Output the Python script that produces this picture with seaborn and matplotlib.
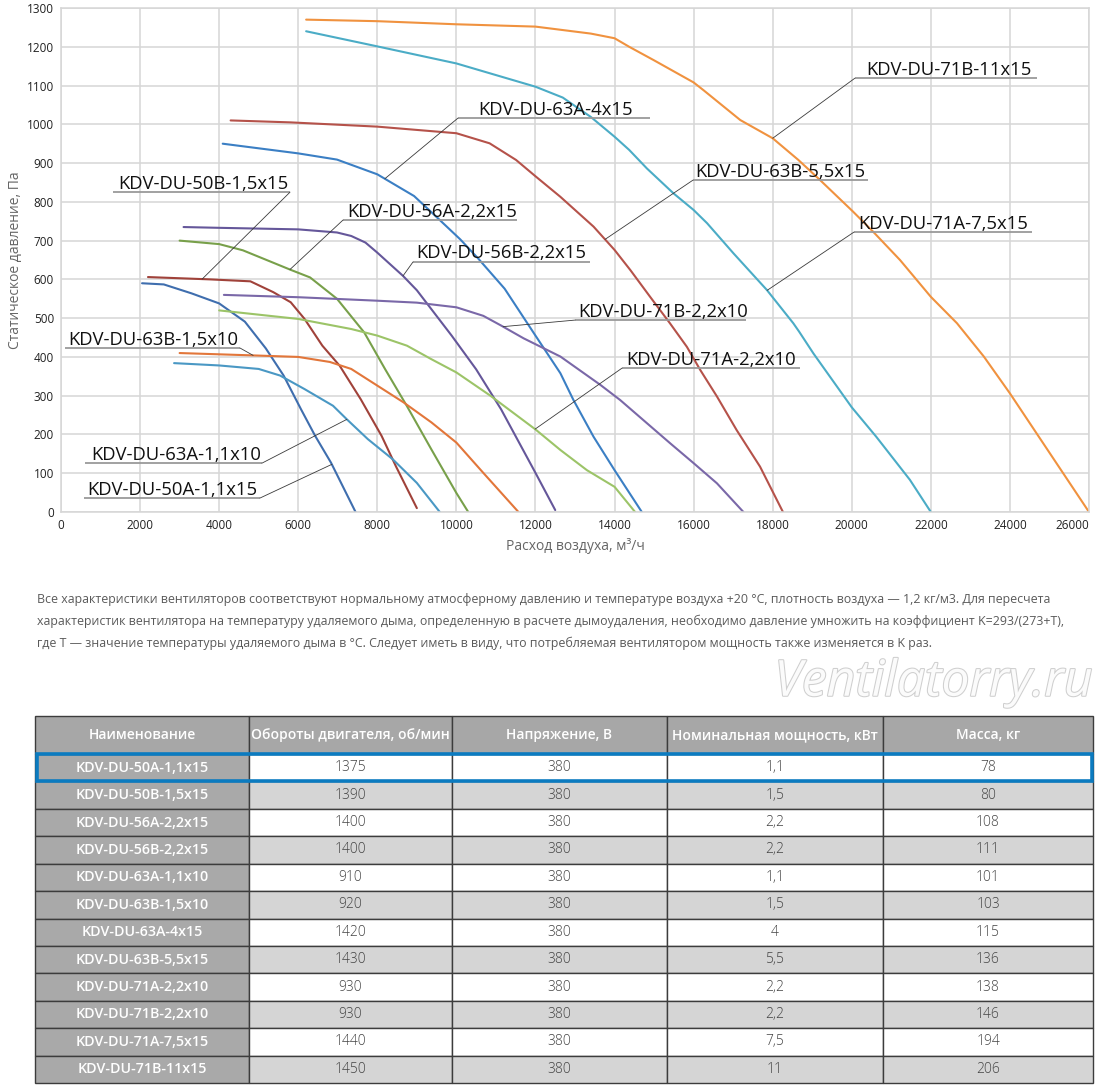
import numpy as np
import pandas as pd
import matplotlib
matplotlib.use("Agg")
import matplotlib.pyplot as plt
import seaborn as sns
from matplotlib import font_manager as fm
from matplotlib.patches import Rectangle
import matplotlib.patheffects as pe

# ---------------- data: fan curves (flow m3/h, static pressure Pa) ----------------
q_50A_11x15 = [2050, 2600, 3300, 4000, 4650, 5180, 5630, 6070, 6430, 6830, 7450]
p_50A_11x15 = [590, 587, 564, 538, 491, 422, 352, 265, 196, 127, 0]

q_50B_15x15 = [2200, 3770, 4790, 5370, 5810, 6160, 6610, 7050, 7580, 8110, 8470, 9000]
p_50B_15x15 = [606, 600, 595, 567, 541, 498, 429, 377, 291, 196, 118, 10]

q_56A_22x15 = [3000, 4000, 4600, 5200, 5800, 6300, 6980, 7670, 8200, 8750, 9370, 10000, 10300]
p_56A_22x15 = [700, 691, 675, 650, 625, 605, 550, 463, 368, 273, 161, 49, 0]

q_56B_22x15 = [3100, 4000, 5000, 6000, 6980, 7340, 7700, 8000, 8650, 9000, 9880, 10500, 11130, 12000, 12500]
p_56B_22x15 = [735, 733, 731, 729, 721, 712, 695, 669, 609, 572, 455, 368, 265, 101, 5]

q_63A_11x10 = [2860, 4000, 5000, 5540, 6160, 6880, 7230, 7760, 8390, 9000, 9580]
p_63A_11x10 = [384, 378, 369, 352, 317, 274, 239, 188, 136, 75, 0]

q_63B_15x10 = [3000, 4830, 6000, 6800, 7340, 8000, 8660, 9370, 10000, 10680, 11570]
p_63B_15x10 = [410, 404, 400, 387, 369, 326, 283, 231, 179, 101, 0]

q_63A_4x15 = [4090, 6000, 6980, 8000, 8930, 9560, 10100, 10550, 11220, 12000, 12630, 12960, 13470, 14000, 14690]
p_63A_4x15 = [950, 925, 909, 871, 815, 755, 703, 654, 576, 455, 358, 289, 194, 108, 0]

q_63B_55x15 = [4290, 5800, 8000, 10000, 10840, 11510, 12000, 12630, 13470, 14000, 14400, 14900,
               15400, 15830, 16170, 16590, 17090, 17680, 18260]
p_63B_55x15 = [1010, 1005, 994, 977, 951, 908, 866, 813, 736, 676, 624, 555,
               487, 426, 366, 298, 211, 117, 0]

q_71A_22x10 = [4000, 6000, 7340, 8000, 8750, 9370, 10000, 10860, 12000, 12630, 13300, 14000, 14520]
p_71A_22x10 = [520, 498, 472, 455, 429, 394, 360, 300, 213, 160, 108, 65, 0]

q_71B_22x10 = [4120, 6000, 8000, 9000, 10000, 10680, 11130, 11700, 12630, 13640, 14140, 14820, 15410,
               16000, 16590, 17260]
p_71B_22x10 = [560, 554, 545, 540, 528, 506, 481, 448, 401, 328, 289, 229, 177,
               126, 74, 0]

q_71A_75x15 = [6200, 8000, 10000, 11000, 12000, 12690, 13400, 14000, 14370, 14820, 15490, 16000, 16340,
               17010, 17850, 18520, 18670, 19030, 20000, 20620, 21470, 22000]
p_71A_75x15 = [1240, 1201, 1157, 1127, 1097, 1069, 1019, 968, 934, 886, 822, 779, 745,
               667, 573, 487, 465, 409, 270, 194, 83, 0]

q_71B_11x15 = [6200, 8000, 10000, 12000, 13400, 14000, 14370, 15000, 16000, 16250, 17180, 18000, 18650,
               19180, 20030, 20540, 21220, 22000, 22660, 23340, 24000, 25000, 26000]
p_71B_11x15 = [1270, 1266, 1258, 1252, 1234, 1222, 1200, 1165, 1108, 1088, 1011, 964, 908,
               858, 775, 723, 650, 555, 487, 401, 306, 153, 0]

# ---------------- data: table ----------------
names = ["KDV-DU-50A-1,1x15", "KDV-DU-50B-1,5x15", "KDV-DU-56A-2,2x15", "KDV-DU-56B-2,2x15",
         "KDV-DU-63A-1,1x10", "KDV-DU-63B-1,5x10", "KDV-DU-63A-4x15", "KDV-DU-63B-5,5x15",
         "KDV-DU-71A-2,2x10", "KDV-DU-71B-2,2x10", "KDV-DU-71A-7,5x15", "KDV-DU-71B-11x15"]
rpm = [1375, 1390, 1400, 1400, 910, 920, 1420, 1430, 930, 930, 1440, 1450]
voltage = [380, 380, 380, 380, 380, 380, 380, 380, 380, 380, 380, 380]
power = [1.1, 1.5, 2.2, 2.2, 1.1, 1.5, 4, 5.5, 2.2, 2.2, 7.5, 11]
mass = [78, 80, 108, 111, 101, 103, 115, 136, 138, 146, 194, 206]
headers = ["Наименование", "Обороты двигателя, об/мин", "Напряжение, В",
           "Номинальная мощность, кВт", "Масса, кг"]

curves = {
    "KDV-DU-50A-1,1x15": (q_50A_11x15, p_50A_11x15),
    "KDV-DU-50B-1,5x15": (q_50B_15x15, p_50B_15x15),
    "KDV-DU-56A-2,2x15": (q_56A_22x15, p_56A_22x15),
    "KDV-DU-56B-2,2x15": (q_56B_22x15, p_56B_22x15),
    "KDV-DU-63A-1,1x10": (q_63A_11x10, p_63A_11x10),
    "KDV-DU-63B-1,5x10": (q_63B_15x10, p_63B_15x10),
    "KDV-DU-63A-4x15": (q_63A_4x15, p_63A_4x15),
    "KDV-DU-63B-5,5x15": (q_63B_55x15, p_63B_55x15),
    "KDV-DU-71A-2,2x10": (q_71A_22x10, p_71A_22x10),
    "KDV-DU-71B-2,2x10": (q_71B_22x10, p_71B_22x10),
    "KDV-DU-71A-7,5x15": (q_71A_75x15, p_71A_75x15),
    "KDV-DU-71B-11x15": (q_71B_11x15, p_71B_11x15),
}

palette = {
    "KDV-DU-50A-1,1x15": "#3f6eae",
    "KDV-DU-50B-1,5x15": "#a0423a",
    "KDV-DU-56A-2,2x15": "#78a04a",
    "KDV-DU-56B-2,2x15": "#65579a",
    "KDV-DU-63A-1,1x10": "#4a98c4",
    "KDV-DU-63B-1,5x10": "#e2763a",
    "KDV-DU-63A-4x15": "#3b7fc4",
    "KDV-DU-63B-5,5x15": "#b5524a",
    "KDV-DU-71A-2,2x10": "#9cc468",
    "KDV-DU-71B-2,2x10": "#7a68a8",
    "KDV-DU-71A-7,5x15": "#4bacc6",
    "KDV-DU-71B-11x15": "#f0923f",
}

# label layout: (model, text_x, underline_y, underline_x0, underline_x1, attach_side, target_q)
label_layout = [
    ("KDV-DU-71B-11x15", 20360, 1119, 20080, 24685, "left", 18000),
    ("KDV-DU-63A-4x15", 10546, 1016, 10040, 14896, "left", 8190),
    ("KDV-DU-50B-1,5x15", 1442, 825, 1315, 5792, "right", 3570),
    ("KDV-DU-56A-2,2x15", 7233, 753, 7132, 11533, "left", 5790),
    ("KDV-DU-63B-5,5x15", 16035, 856, 15984, 20410, "left", 13760),
    ("KDV-DU-56B-2,2x15", 8980, 645, 8903, 13379, "left", 8650),
    ("KDV-DU-71A-7,5x15", 20157, 722, 20056, 24558, "left", 17860),
    ("KDV-DU-71B-2,2x10", 13076, 495, 13000, 17324, "left", 11180),
    ("KDV-DU-63B-1,5x10", 177, 423, 101, 4527, "right", 4860),
    ("KDV-DU-71A-2,2x10", 14289, 371, 14188, 18690, "left", 11990),
    ("KDV-DU-63A-1,1x10", 759, 126, 607, 5083, "right", 7230),
    ("KDV-DU-50A-1,1x15", 658, 36, 582, 5033, "right", 6850),
]

# ---------------- styling ----------------
sns.set_theme(style="white")
plt.rcParams["font.family"] = ["Open Sans", "DejaVu Sans"]
avail = {f.name for f in fm.fontManager.ttflist}
narrow = "Liberation Sans Narrow" if "Liberation Sans Narrow" in avail else "Open Sans"

W, H = 1100, 1090
fig = plt.figure(figsize=(W / 100, H / 100), dpi=100)
fig.patch.set_facecolor("white")

ax = fig.add_axes([61 / W, 1 - 512 / H, 1028 / W, 504 / H])
rows = []
for name in names:
    q, p = curves[name]
    rows.append(pd.DataFrame({"q": q, "p": p, "model": name}))
df = pd.concat(rows, ignore_index=True)
sns.lineplot(data=df, x="q", y="p", hue="model", palette=palette, estimator=None,
             sort=False, legend=False, lw=1.5, ax=ax)

ax.set_xlim(0, 26000)
ax.set_ylim(0, 1300)
ax.set_xticks(np.arange(0, 26001, 2000))
ax.set_yticks(np.arange(0, 1301, 100))
ax.grid(True, color="#d6d6d6", lw=1.1)
ax.set_axisbelow(True)
for s in ax.spines.values():
    s.set_color("#d6d6d6")
    s.set_linewidth(1.1)
ax.tick_params(length=0, labelsize=8.5, colors="#222222", pad=5)
xt = ax.get_xticklabels()
xt[-1].set_ha("right")
ax.set_xlabel("Расход воздуха, м³/ч", color="#666666", fontsize=10, labelpad=4)
ax.set_ylabel("Статическое давление, Па", color="#666666", fontsize=10, labelpad=3)

for name, tx, uy, x0, x1, side, tq in label_layout:
    q, p = curves[name]
    ty = float(np.interp(tq, q, p))
    ax.plot([x0, x1], [uy, uy], color="#9a9a9a", lw=1.3, solid_capstyle="butt", zorder=4)
    ax_x = x0 if side == "left" else x1
    ax.plot([ax_x, tq], [uy, ty], color="#3a3a3a", lw=0.6, zorder=4)
    ax.text(tx, uy + 9, name, fontsize=13.3, color="#111111", va="baseline", ha="left", zorder=5)

# ---------------- note paragraph ----------------
para = [
    "Все характеристики вентиляторов соответствуют нормальному атмосферному давлению и температуре воздуха +20 °С, плотность воздуха — 1,2 кг/м3. Для пересчета",
    "характеристик вентилятора на температуру удаляемого дыма, определенную в расчете дымоудаления, необходимо давление умножить на коэффициент K=293/(273+T),",
    "где T — значение температуры удаляемого дыма в °С. Следует иметь в виду, что потребляемая вентилятором мощность также изменяется в K раз.",
]
para_y = [600, 621, 643]
ptexts = []
for line, yy in zip(para, para_y):
    ptexts.append(fig.text(37 / W, 1 - yy / H, line, fontsize=10, color="#5a5a5a",
                           family=[narrow, "DejaVu Sans"], va="center", ha="left"))
fig.canvas.draw()
w0 = ptexts[0].get_window_extent().width
fs = 10 * 1008 / w0
for t in ptexts:
    t.set_fontsize(fs)

wm = fig.text(1092 / W, 1 - 683 / H, "Ventilatorry.ru", fontsize=30, style="italic",
              color="#fbfbfb", family=[narrow, "DejaVu Sans"], ha="right", va="center",
              path_effects=[pe.withStroke(linewidth=1.5, foreground="#cfcfcf")])
fig.canvas.draw()
ww = wm.get_window_extent().width
wm.set_fontsize(30 * 318 / ww)

# ---------------- table ----------------
axt = fig.add_axes([35 / W, 1 - 1083 / H, 1058 / W, 367 / H])
axt.axis("off")
cell_text = []
for n, r, v, pw, m in zip(names, rpm, voltage, power, mass):
    cell_text.append([n, str(r), str(v), f"{pw:g}".replace(".", ","), str(m)])
colw = np.array([214, 203, 215, 216, 210], dtype=float)
tbl = axt.table(cellText=cell_text, colLabels=headers, colWidths=list(colw / colw.sum()),
                cellLoc="center", bbox=[0, 0, 1, 1])
tbl.auto_set_font_size(False)
hh, rh = 38.0, 27.4
for (r, c), cell in tbl.get_celld().items():
    cell.set_edgecolor("#3c3c3c")
    cell.set_linewidth(1.0)
    txt = cell.get_text()
    if r == 0:
        cell.set_height(hh)
        cell.set_facecolor("#a7a7a7")
        txt.set_color("white")
        txt.set_fontsize(10)
        txt.set_fontweight("semibold")
    else:
        cell.set_height(rh)
        if c == 0:
            cell.set_facecolor("#a9a9a9")
            txt.set_color("white")
            txt.set_fontsize(10.3)
            txt.set_fontweight("semibold")
        else:
            cell.set_facecolor("white" if r % 2 == 1 else "#d5d5d5")
            txt.set_color("#444444")
            txt.set_fontsize(10)
            txt.set_fontweight("light")

total = hh + rh * len(names)
top1 = 1 - hh / total
bot1 = 1 - (hh + rh) / total
axt.add_patch(Rectangle((2 / 1058, bot1), 1 - 3 / 1058, top1 - bot1, transform=axt.transAxes,
                        fill=False, ec="#0b7bc0", lw=2.6, zorder=10, clip_on=False))

fig.savefig("out.png", dpi=100, facecolor="white")
